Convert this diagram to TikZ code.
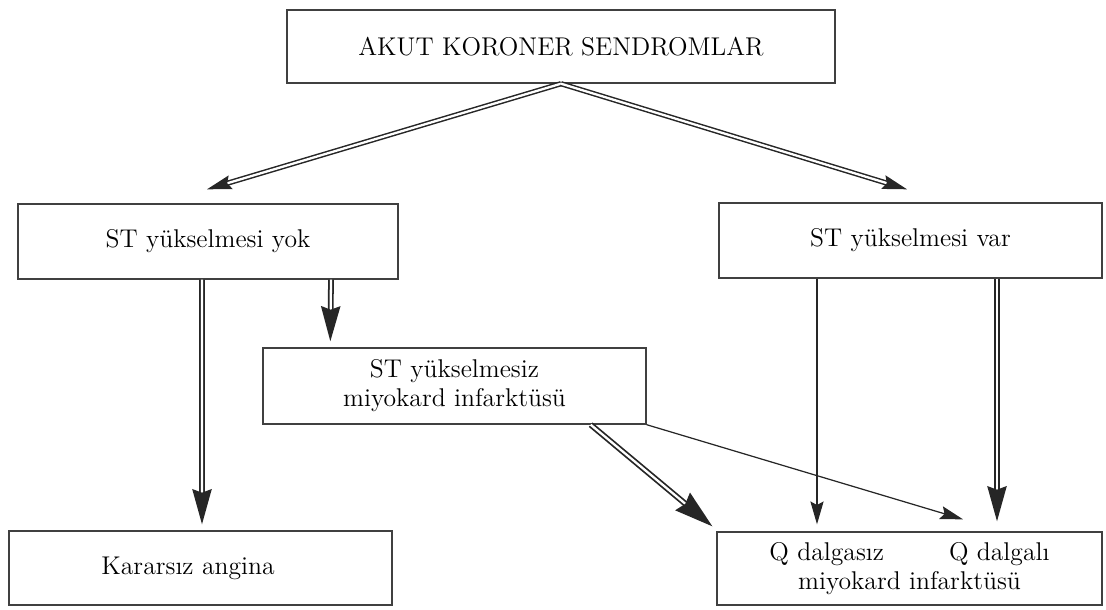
\documentclass[tikz,border=0pt]{standalone}
\usepackage{fontspec}
\usepackage{tikz}
\usetikzlibrary{arrows.meta,calc}

\begin{document}
\begin{tikzpicture}[x=0.02cm,y=-0.02cm,
	box/.style={draw=black!75,line width=0.8pt,minimum width=7.66cm,minimum height=1.5cm,inner sep=0pt,align=center,font=\fontsize{14.6}{16.5}\selectfont},
	dbl/.style={draw=black!85,line width=1pt,double=white,double distance=1.3pt,-{Stealth[length=20pt,width=11pt,inset=2pt]}},
	dbls/.style={dbl,line width=0.85pt,-{Stealth[length=14pt,width=8pt,inset=2pt]}},
	one/.style={draw=black!85,line width=0.7pt,-{Stealth[length=13pt,width=7.5pt,inset=2pt]}}]

	\useasboundingbox (0,0) rectangle (1106,609);

	\node[box,minimum width=10.96cm,minimum height=1.46cm] (akut) at (561,46.5) {AKUT KORONER SENDROMLAR};
	\node[box,minimum width=7.6cm] (yok) at (208,241.5) {ST yükselmesi yok};
	\node[box] (var) at (910.5,240.5) {ST yükselmesi var};
	\node[box,minimum height=1.52cm] (nstemi) at (454.5,386) {ST yükselmesiz\\miyokard infarktüsü};
	\node[box,minimum height=1.48cm] (angina) at (200.5,568) {Kararsız angina\hspace*{0.5cm}};
	\node[box,minimum width=7.7cm,minimum height=1.46cm] (qmi) at (909.5,568.5) {Q dalgasız\hspace{1.3cm}Q dalgalı\\miyokard infarktüsü};

	\draw[dbls] (akut.south) -- ($(yok.north)+(-1,-14)$);
	\draw[dbls] (akut.south) -- ($(var.north)+(-3.5,-13)$);

	\draw[dbl] ($(yok.south)+(-6,0)$) -- ($(angina.north)+(1.5,-6)$);
	\draw[dbl] ($(yok.south)+(123,0)$) -- ($(nstemi.north west)+(68,-6)$);

	\draw[dbl,-{Stealth[length=22pt,width=13pt,inset=2pt]}] ($(nstemi.south east)+(-56,0)$) -- ($(qmi.north west)+(-4,-5)$);
	\draw[one] (nstemi.south east) -- ($(qmi.north)+(53.5,-12)$);

	\draw[one] ($(var.south)+(-93.5,0)$) -- ($(qmi.north)+(-92.5,-7)$);
	\draw[dbl] ($(var.south)+(86.5,0)$) -- ($(qmi.north)+(87.5,-10)$);
\end{tikzpicture}
\end{document}
